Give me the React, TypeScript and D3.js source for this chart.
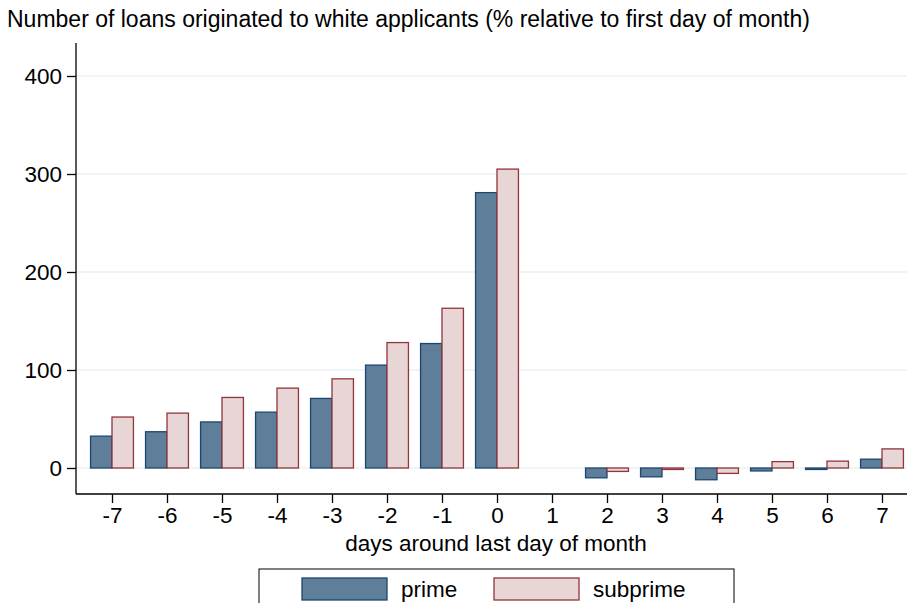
import React, { useEffect, useRef } from 'react';
import * as d3 from 'd3';

const days = [-7, -6, -5, -4, -3, -2, -1, 0, 1, 2, 3, 4, 5, 6, 7];
const prime = [32.5, 37, 47, 57, 71, 105, 127, 281, 0, -10, -9, -12, -3, -1.5, 9];
const subprime = [52, 56, 72, 81.5, 91, 128, 163, 305, 0, -3.5, -1.5, -5.5, 6.5, 7, 19.5];
const yTicks = [0, 100, 200, 300, 400];
const seriesNames = ['prime', 'subprime'];

const W = 915;
const H = 611;
const FONT = '"Liberation Sans", Arial, Helvetica, sans-serif';
const FS = 22.5;

const App: React.FC = () => {
  const svgRef = useRef<SVGSVGElement>(null);

  useEffect(() => {
    if (!svgRef.current) return;
    const svg = d3.select(svgRef.current);
    svg.selectAll('*').remove();

    const fills = ['#5e7e99', '#e8d6d7'];
    const strokes = ['#1a476f', '#90353b'];

    const plot = { left: 76, right: 910, top: 43, bottom: 494 };

    // Scales
    const x = d3.scalePoint<number>().domain(days).range([112, 882]);
    const barW = x.step() * 0.39;
    const y = d3.scaleLinear().domain([0, 400]).range([468, 76]);

    // Grid lines
    svg.append('g')
      .selectAll('line')
      .data(yTicks)
      .enter()
      .append('line')
      .attr('x1', plot.left)
      .attr('x2', plot.right)
      .attr('y1', d => y(d))
      .attr('y2', d => y(d))
      .attr('stroke', '#eaf2f3')
      .attr('stroke-width', 1.5);

    // Bars
    const series = [prime, subprime];
    series.forEach((vals, si) => {
      svg.append('g')
        .selectAll('rect')
        .data(days.map((d, i) => ({ d, v: vals[i] })).filter(p => p.v !== 0))
        .enter()
        .append('rect')
        .attr('x', p => (x(p.d) as number) - barW + si * barW)
        .attr('y', p => Math.min(y(p.v), y(0)))
        .attr('width', barW)
        .attr('height', p => Math.abs(y(p.v) - y(0)))
        .attr('fill', fills[si])
        .attr('stroke', strokes[si])
        .attr('stroke-width', 1.3);
    });

    // Y axis
    const yAxis = svg.append('g')
      .attr('transform', `translate(${plot.left},0)`)
      .call(d3.axisLeft(y).tickValues(yTicks).tickSize(9).tickPadding(5).tickSizeOuter(0));
    yAxis.select('.domain').remove();
    yAxis.selectAll('.tick line').attr('stroke', '#000').attr('stroke-width', 1.3);
    yAxis.selectAll('.tick text')
      .attr('font-family', FONT).attr('font-size', FS).attr('fill', '#000');
    svg.append('line')
      .attr('x1', plot.left).attr('x2', plot.left)
      .attr('y1', plot.top).attr('y2', plot.bottom)
      .attr('stroke', '#000').attr('stroke-width', 1.3);

    // X axis
    const xAxis = svg.append('g')
      .attr('transform', `translate(0,${plot.bottom})`)
      .call(d3.axisBottom(x).tickSize(9).tickPadding(4).tickSizeOuter(0));
    xAxis.select('.domain').remove();
    xAxis.selectAll('.tick line').attr('stroke', '#000').attr('stroke-width', 1.3);
    xAxis.selectAll('.tick text')
      .attr('font-family', FONT).attr('font-size', FS).attr('fill', '#000');
    svg.append('line')
      .attr('x1', plot.left).attr('x2', plot.right + 5)
      .attr('y1', plot.bottom).attr('y2', plot.bottom)
      .attr('stroke', '#000').attr('stroke-width', 1.3);

    // Titles
    svg.append('text')
      .attr('x', 7).attr('y', 27)
      .attr('font-family', FONT).attr('font-size', 23)
      .text('Number of loans originated to white applicants (% relative to first day of month)');
    svg.append('text')
      .attr('x', 496).attr('y', 551)
      .attr('text-anchor', 'middle')
      .attr('font-family', FONT).attr('font-size', FS)
      .text('days around last day of month');

    // Legend
    const lg = svg.append('g');
    lg.append('rect')
      .attr('x', 259).attr('y', 569).attr('width', 475).attr('height', 39)
      .attr('fill', '#fff').attr('stroke', '#000').attr('stroke-width', 1);
    const legendX = [302, 494];
    seriesNames.forEach((name, i) => {
      lg.append('rect')
        .attr('x', legendX[i]).attr('y', 578).attr('width', 85).attr('height', 22)
        .attr('fill', fills[i]).attr('stroke', strokes[i]).attr('stroke-width', 1.3);
      lg.append('text')
        .attr('x', legendX[i] + 99).attr('y', 597)
        .attr('font-family', FONT).attr('font-size', FS)
        .text(name);
    });
  }, []);

  return <svg ref={svgRef} width={W} height={H} style={{ display: 'block', margin: -8 }} />;
};

export default App;
